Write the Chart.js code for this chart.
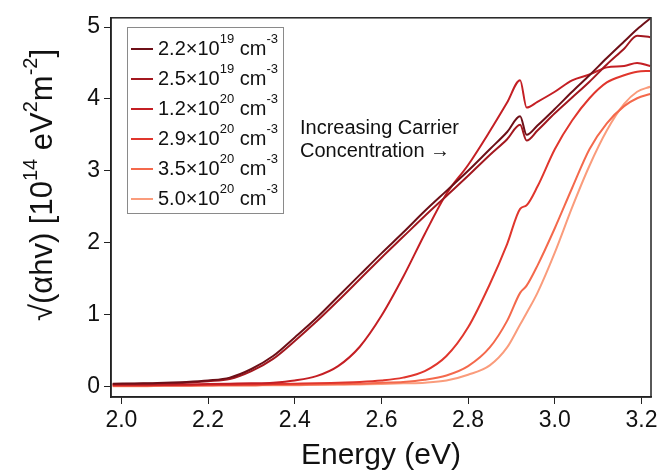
<!DOCTYPE html>
<html>
<head>
<meta charset="utf-8">
<script src="https://cdn.jsdelivr.net/npm/chart.js@4/dist/chart.umd.min.js"></script>
<style>
  html, body { margin: 0; padding: 0; background: #fff; }
  #wrap { width: 671px; height: 474px; }
</style>
</head>
<body>
<div id="wrap"><canvas id="chart" width="671" height="474"></canvas></div>
<script>
// Energy grid (eV), shared by all samples
const energy = [1.98, 2.05, 2.1, 2.15, 2.2, 2.25, 2.3, 2.35, 2.4, 2.45, 2.5, 2.55, 2.6, 2.65, 2.7, 2.75, 2.8, 2.85, 2.89, 2.92, 2.935, 2.96, 3.0, 3.04, 3.08, 3.12, 3.16, 3.19, 3.22];

// sqrt(alpha h nu) in 1e14 units, one list per carrier concentration
const n22e19 = [0.035, 0.04, 0.05, 0.06, 0.08, 0.12, 0.24, 0.42, 0.68, 0.95, 1.25, 1.55, 1.85, 2.14, 2.44, 2.72, 3.0, 3.3, 3.54, 3.76, 3.5, 3.63, 3.86, 4.1, 4.33, 4.57, 4.8, 4.97, 5.12];
const n25e19 = [0.03, 0.035, 0.04, 0.05, 0.07, 0.1, 0.21, 0.38, 0.63, 0.9, 1.19, 1.49, 1.79, 2.08, 2.37, 2.65, 2.93, 3.22, 3.44, 3.64, 3.42, 3.56, 3.8, 4.02, 4.24, 4.48, 4.7, 4.88, 4.86];
const n12e20 = [0.02, 0.02, 0.02, 0.025, 0.03, 0.035, 0.04, 0.05, 0.08, 0.14, 0.28, 0.55, 0.98, 1.52, 2.12, 2.68, 3.08, 3.55, 3.95, 4.26, 3.88, 3.96, 4.1, 4.26, 4.34, 4.44, 4.46, 4.5, 4.46];
const n29e20 = [0.01, 0.01, 0.015, 0.015, 0.02, 0.02, 0.025, 0.03, 0.035, 0.04, 0.05, 0.06, 0.08, 0.12, 0.21, 0.42, 0.82, 1.42, 1.98, 2.47, 2.52, 2.78, 3.3, 3.7, 4.01, 4.23, 4.33, 4.38, 4.39];
const n35e20 = [0.005, 0.005, 0.01, 0.01, 0.01, 0.015, 0.015, 0.02, 0.02, 0.025, 0.03, 0.035, 0.05, 0.06, 0.09, 0.15, 0.28, 0.54, 0.91, 1.3, 1.4, 1.68, 2.2, 2.76, 3.3, 3.66, 3.9, 4.01, 4.07];
const n50e20 = [0, 0, 0.005, 0.005, 0.01, 0.01, 0.01, 0.015, 0.015, 0.02, 0.02, 0.025, 0.03, 0.04, 0.05, 0.08, 0.16, 0.29, 0.54, 0.86, 1.02, 1.3, 1.86, 2.49, 3.07, 3.56, 3.93, 4.1, 4.17];

const mantissas = ["2.2", "2.5", "1.2", "2.9", "3.5", "5.0"];
const exponents = ["19", "19", "20", "20", "20", "20"];
const seriesValues = [n22e19, n25e19, n12e20, n29e20, n35e20, n50e20];
const colors = ["#6e1018", "#a3181f", "#c41f24", "#e0362d", "#f4694c", "#fa9c7c"];

const xTicks = [2.0, 2.2, 2.4, 2.6, 2.8, 3.0, 3.2];
const yTicks = [0, 1, 2, 3, 4, 5];

const FONT = "'Liberation Sans', Arial, sans-serif";

// draw text pieces with superscripts, left aligned on a baseline
function richWidth(ctx, parts, size, supSize) {
  let w = 0;
  parts.forEach(([t, sup]) => {
    ctx.font = `${sup ? supSize : size}px ${FONT}`;
    w += ctx.measureText(t).width;
  });
  return w;
}
function drawRich(ctx, parts, x, y, size, supSize, rise) {
  let cx = x;
  parts.forEach(([t, sup]) => {
    ctx.font = `${sup ? supSize : size}px ${FONT}`;
    ctx.fillText(t, cx, sup ? y - rise : y);
    cx += ctx.measureText(t).width;
  });
}

const datasets = seriesValues.map((vals, i) => ({
  label: `${mantissas[i]}×10^${exponents[i]} cm^-3`,
  data: vals.map((v, j) => ({ x: energy[j], y: v })),
  borderColor: colors[i],
  backgroundColor: colors[i],
  borderWidth: 2,
  pointRadius: 0,
  cubicInterpolationMode: "monotone",
  fill: false,
}));

const decorations = {
  id: "decorations",
  afterDraw(chart) {
    const ctx = chart.ctx;
    const a = chart.chartArea;
    ctx.save();

    // plot frame
    ctx.strokeStyle = "#222";
    ctx.lineWidth = 1.5;
    ctx.strokeRect(a.left, a.top, a.right - a.left, a.bottom - a.top);

    ctx.fillStyle = "#111";
    ctx.textBaseline = "alphabetic";

    // legend box
    const lx = 127, ly = 27, lw = 156, lh = 186;
    ctx.fillStyle = "#fff";
    ctx.fillRect(lx, ly, lw, lh);
    ctx.strokeStyle = "#8a8a8a";
    ctx.lineWidth = 1;
    ctx.strokeRect(lx + 0.5, ly + 0.5, lw, lh);
    for (let i = 0; i < mantissas.length; i++) {
      const cy = 49 + i * 30;
      ctx.strokeStyle = colors[i];
      ctx.lineWidth = 2;
      ctx.beginPath();
      ctx.moveTo(131, cy);
      ctx.lineTo(153, cy);
      ctx.stroke();
      ctx.fillStyle = "#111";
      drawRich(ctx, [[mantissas[i] + "×10", false], [exponents[i], true], [" cm", false], ["-3", true]],
        158, cy + 6, 20, 13, 12);
    }

    // annotation
    ctx.font = `20px ${FONT}`;
    ctx.fillStyle = "#111";
    ctx.fillText("Increasing Carrier", 300, 134);
    ctx.fillText("Concentration →", 300, 157);

    // y axis title
    const parts = [["√(αhv) [10", false], ["14", true], [" eV", false], ["2", true], ["m", false], ["-2", true], ["]", false]];
    const w = richWidth(ctx, parts, 31, 20);
    ctx.translate(52, 185);
    ctx.rotate(-Math.PI / 2);
    drawRich(ctx, parts, -w / 2, 0, 31, 20, 15);
    ctx.restore();
  },
};

new Chart(document.getElementById("chart"), {
  type: "line",
  data: { datasets },
  options: {
    responsive: false,
    animation: false,
    layout: { padding: { left: 0, top: 13, right: 20, bottom: 0 } },
    plugins: { legend: { display: false }, tooltip: { enabled: false } },
    scales: {
      x: {
        type: "linear",
        min: 1.976,
        max: 3.222,
        afterFit: (s) => { s.height = 77; },
        afterBuildTicks: (s) => { s.ticks = xTicks.map((v) => ({ value: v })); },
        grid: { drawOnChartArea: false, drawTicks: true, tickLength: 7, color: "#222" },
        border: { display: true, color: "#222", width: 1.5 },
        ticks: {
          color: "#111",
          font: { size: 23, family: FONT },
          padding: 3,
          maxRotation: 0,
          callback: (v) => Number(v).toFixed(1),
        },
        title: {
          display: true,
          text: "Energy (eV)",
          color: "#111",
          font: { size: 30, family: FONT },
          padding: { top: 0, bottom: 0 },
        },
      },
      y: {
        min: -0.15,
        max: 5.13,
        afterFit: (s) => { s.width = 111; },
        afterBuildTicks: (s) => { s.ticks = yTicks.map((v) => ({ value: v })); },
        grid: { drawOnChartArea: false, drawTicks: true, tickLength: 7, color: "#222" },
        border: { display: true, color: "#222", width: 1.5 },
        ticks: {
          color: "#111",
          font: { size: 23, family: FONT },
          padding: 4,
          callback: (v) => String(v),
        },
      },
    },
  },
  plugins: [decorations],
});
</script>
</body>
</html>
